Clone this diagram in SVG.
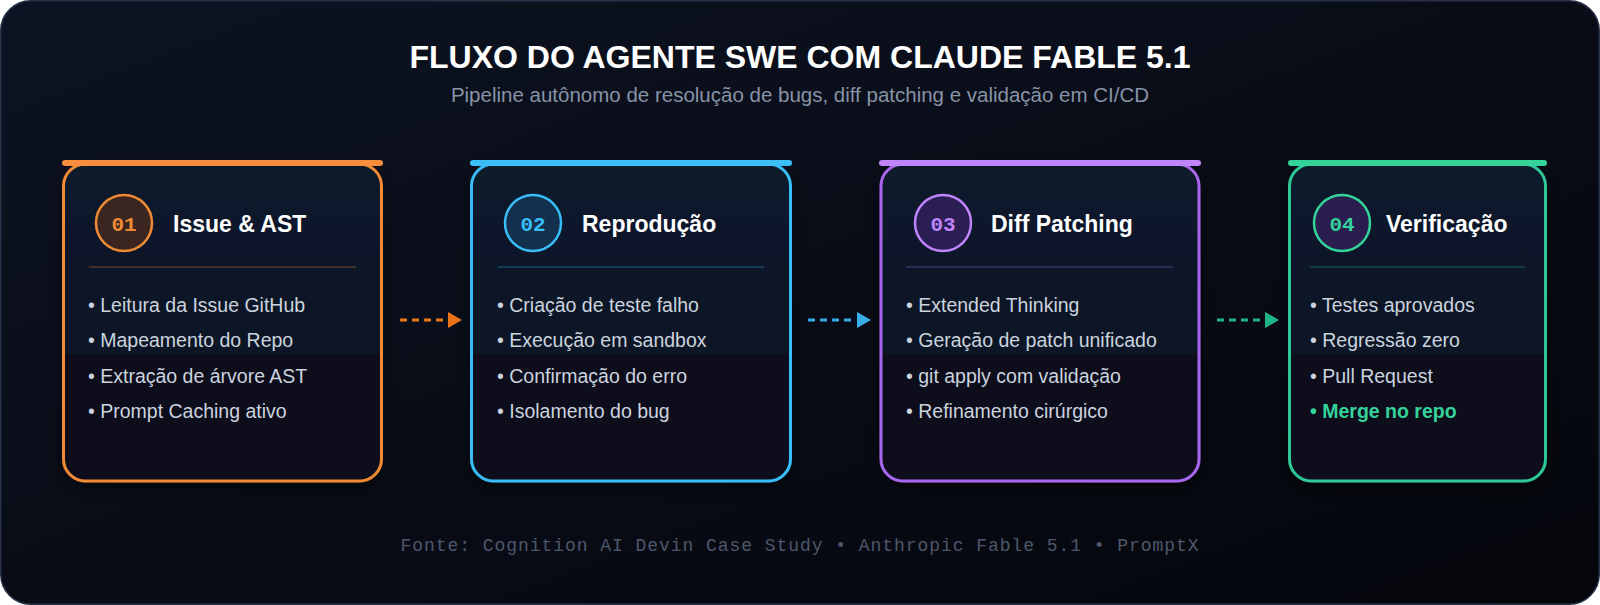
<svg xmlns="http://www.w3.org/2000/svg" width="1600" height="605" viewBox="0 0 1600 605">
  <defs>
    <linearGradient id="bg" x1="0" y1="0" x2="1" y2="1">
      <stop offset="0" stop-color="#0d1322"/>
      <stop offset="1" stop-color="#05060c"/>
    </linearGradient>
    <linearGradient id="cardfill" x1="0" y1="0" x2="0" y2="1">
      <stop offset="0" stop-color="#111a2a"/>
      <stop offset="0.6" stop-color="#0f1727"/>
      <stop offset="0.6" stop-color="#0e0f1e"/>
      <stop offset="1" stop-color="#0e0e1c"/>
    </linearGradient>
    <filter id="shadow" x="-20%" y="-20%" width="140%" height="140%">
      <feDropShadow dx="0" dy="6" stdDeviation="8" flood-color="#000000" flood-opacity="0.5"/>
    </filter>
    <style>
      .card { fill: url(#cardfill); stroke-width: 3; filter: url(#shadow); }
      .bar { stroke-width: 6; stroke-linecap: round; }
      .circ { stroke-width: 2.5; }
      .num { font-family: "Liberation Mono", monospace; font-weight: bold; font-size: 21px; text-anchor: middle; }
      .ttl { font-family: "Liberation Sans", Arial, sans-serif; font-weight: bold; font-size: 23px; fill: #ffffff; }
      .div { stroke-width: 1.2; }
      .item { font-family: "Liberation Sans", Arial, sans-serif; font-size: 19.5px; fill: #cbd3df; }
      .dash { stroke-width: 3; stroke-dasharray: 7 5; fill: none; }
    </style>
  </defs>

  <rect x="0.75" y="0.75" width="1598.5" height="603.5" rx="30" fill="url(#bg)" stroke="#263247" stroke-width="1.5"/>

  <text x="800" y="68" text-anchor="middle" font-family="Liberation Sans, Arial, sans-serif" font-weight="bold" font-size="32" fill="#ffffff">FLUXO DO AGENTE SWE COM CLAUDE FABLE 5.1</text>
  <text x="800" y="102" text-anchor="middle" font-family="Liberation Sans, Arial, sans-serif" font-size="20.5" fill="#8793a7">Pipeline autônomo de resolução de bugs, diff patching e validação em CI/CD</text>

  <g id="node-1">
    <rect class="card" x="63.5" y="164" width="318" height="317" rx="22" stroke="#f08a35"/>
    <line class="bar" x1="65" y1="163" x2="380" y2="163" stroke="#f78d3d"/>
    <circle class="circ" cx="124" cy="223" r="28" fill="#3a2520" stroke="#f08a35"/>
    <text class="num" x="124" y="231" fill="#f08a35">01</text>
    <text class="ttl" x="173" y="232">Issue &amp; AST</text>
    <line class="div" x1="89" y1="267" x2="356" y2="267" stroke="#f08a35" stroke-opacity="0.45"/>
    <text class="item" x="88" y="312">• Leitura da Issue GitHub</text>
    <text class="item" x="88" y="347">• Mapeamento do Repo</text>
    <text class="item" x="88" y="383">• Extração de árvore AST</text>
    <text class="item" x="88" y="418">• Prompt Caching ativo</text>
  </g>

  <g id="node-2">
    <rect class="card" x="471.5" y="164" width="319" height="317" rx="22" stroke="#38bdf8"/>
    <line class="bar" x1="473" y1="163" x2="789" y2="163" stroke="#3cbff7"/>
    <circle class="circ" cx="533" cy="223" r="28" fill="#13304d" stroke="#38bdf8"/>
    <text class="num" x="533" y="231" fill="#38bdf8">02</text>
    <text class="ttl" x="582" y="232">Reprodução</text>
    <line class="div" x1="498" y1="267" x2="764" y2="267" stroke="#38bdf8" stroke-opacity="0.45"/>
    <text class="item" x="497" y="312">• Criação de teste falho</text>
    <text class="item" x="497" y="347">• Execução em sandbox</text>
    <text class="item" x="497" y="383">• Confirmação do erro</text>
    <text class="item" x="497" y="418">• Isolamento do bug</text>
  </g>

  <g id="node-3">
    <rect class="card" x="881" y="164" width="318" height="317" rx="22" stroke="#a866ee"/>
    <line class="bar" x1="882" y1="163" x2="1198" y2="163" stroke="#c084fc"/>
    <circle class="circ" cx="943" cy="223" r="28" fill="#2a1e52" stroke="#c084fc"/>
    <text class="num" x="943" y="231" fill="#c084fc">03</text>
    <text class="ttl" x="991" y="232">Diff Patching</text>
    <line class="div" x1="906" y1="267" x2="1173" y2="267" stroke="#a866ee" stroke-opacity="0.5"/>
    <text class="item" x="906" y="312">• Extended Thinking</text>
    <text class="item" x="906" y="347">• Geração de patch unificado</text>
    <text class="item" x="906" y="383">• git apply com validação</text>
    <text class="item" x="906" y="418">• Refinamento cirúrgico</text>
  </g>

  <g id="node-4">
    <rect class="card" x="1289.5" y="164" width="256" height="317" rx="22" stroke="#2fc796"/>
    <line class="bar" x1="1291" y1="163" x2="1544" y2="163" stroke="#34d399"/>
    <circle class="circ" cx="1342" cy="223" r="28" fill="#2a1e4f" stroke="#34d399"/>
    <text class="num" x="1342" y="231" fill="#34d399">04</text>
    <text class="ttl" x="1386" y="232">Verificação</text>
    <line class="div" x1="1310" y1="267" x2="1525" y2="267" stroke="#34d399" stroke-opacity="0.4"/>
    <text class="item" x="1310" y="312">• Testes aprovados</text>
    <text class="item" x="1310" y="347">• Regressão zero</text>
    <text class="item" x="1310" y="383">• Pull Request</text>
    <text class="item" x="1310" y="418" style="font-weight:bold;fill:#34d399">• Merge no repo</text>
  </g>

  <g id="connectors">
    <line class="dash" x1="400" y1="320" x2="447" y2="320" stroke="#ea7317"/>
    <polygon points="448,312 462,320 448,328" fill="#ea7317"/>
    <line class="dash" x1="808" y1="320" x2="856" y2="320" stroke="#36ade6"/>
    <polygon points="857,312 871,320 857,328" fill="#36ade6"/>
    <line class="dash" x1="1217" y1="320" x2="1264" y2="320" stroke="#1db584"/>
    <polygon points="1265,312 1279,320 1265,328" fill="#1db584"/>
  </g>

  <text x="800" y="551" text-anchor="middle" font-family="Liberation Mono, monospace" font-size="18" letter-spacing="0.95" fill="#4d586b">Fonte: Cognition AI Devin Case Study • Anthropic Fable 5.1 • PromptX</text>
</svg>
